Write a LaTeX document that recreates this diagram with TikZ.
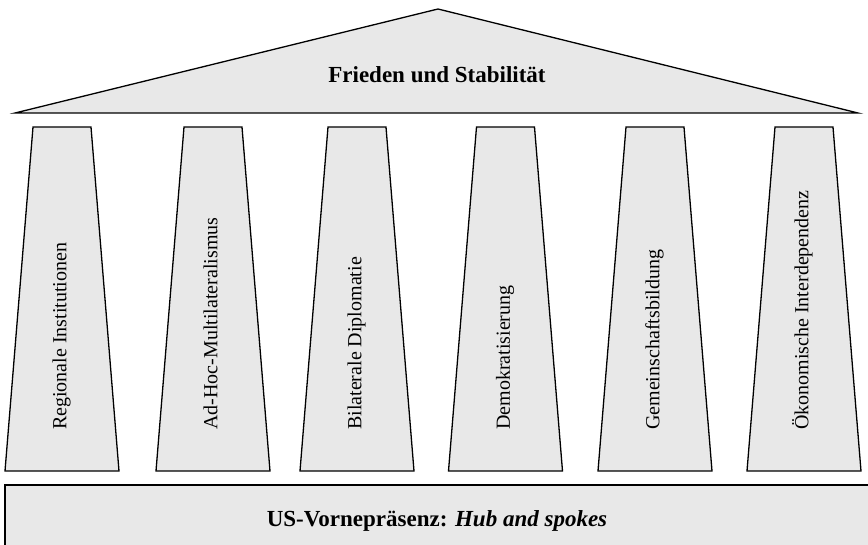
\documentclass[tikz,border=0pt]{standalone}
\usepackage{fontspec}
\setmainfont{Liberation Serif}
\definecolor{templegray}{HTML}{E8E8E8}
\tikzset{
  part/.style={draw=black, fill=templegray, line width=1.3pt, line join=miter},
  pillarlabel/.style={rotate=90, anchor=mid west, inner sep=0pt, font=\fontsize{20}{24}\selectfont},
  headlabel/.style={anchor=base, inner sep=0pt, font=\fontsize{23}{27}\selectfont\bfseries}
}
\begin{document}
\begin{tikzpicture}[x=1pt,y=-1pt]
	\useasboundingbox (0,0) rectangle (868,545);
	\clip (0,0) rectangle (868,545);
	% roof
	\draw[part] (15,113) -- (438,9) -- (858,113) -- cycle;
	\node[headlabel] (roof) at (437,83) {Frieden und Stabilität};
	% pillars
	\foreach \cx/\name/\txt in {62/regional/Regionale Institutionen, 213/adhoc/Ad-Hoc-Multilateralismus,
		357/bilateral/Bilaterale Diplomatie, 505.5/demo/Demokratisierung,
		655/gemeinschaft/Gemeinschaftsbildung, 804/oekonomie/Ökonomische Interdependenz}
	{
		\draw[part] (\cx-29,127) -- (\cx+29,127) -- (\cx+57,471) -- (\cx-57,471) -- cycle;
		\node[pillarlabel] (\name) at (\cx+2,430) {\txt};
	}
	% base
	\draw[part] (5,485) rectangle (890,570);
	\node[headlabel] (base) at (437,526) {US-Vornepräsenz: \textit{Hub and spokes}};
\end{tikzpicture}
\end{document}
